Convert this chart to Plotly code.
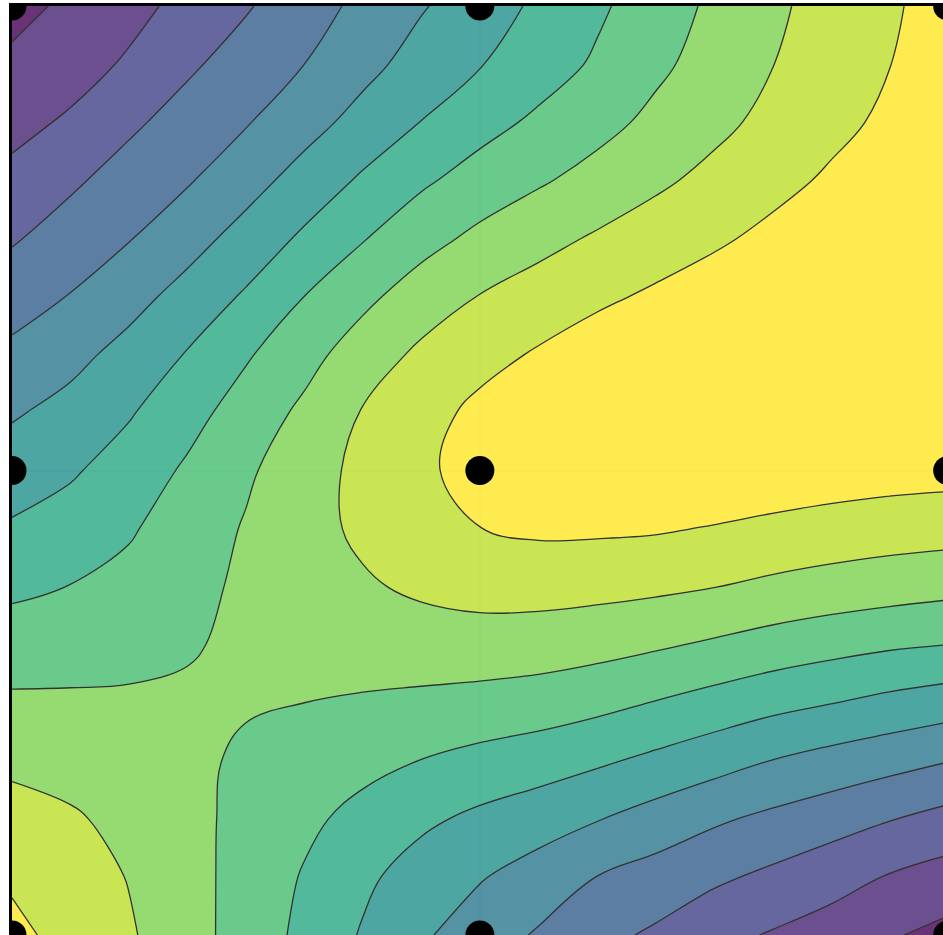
import plotly.graph_objects as go

# grid coordinates (step 0.125)
x_vals = [-1, -0.875, -0.75, -0.625, -0.5, -0.375, -0.25, -0.125, 0,
          0.125, 0.25, 0.375, 0.5, 0.625, 0.75, 0.875, 1]
y_vals = [-1, -0.875, -0.75, -0.625, -0.5, -0.375, -0.25, -0.125, 0,
          0.125, 0.25, 0.375, 0.5, 0.625, 0.75, 0.875, 1]

# surface values, one list per grid row (x from -1 to 1)
z_y_m1000 = [10.23, 9.70, 9.11, 8.38, 7.59, 6.75, 5.91, 5.14, 4.49, 3.90, 3.28, 2.85, 2.29, 1.92, 1.59, 1.10, 0.71]
z_y_m0875 = [9.87, 9.46, 8.96, 8.34, 7.64, 6.92, 6.20, 5.56, 5.07, 4.57, 3.99, 3.60, 3.18, 2.79, 2.36, 1.94, 1.60]
z_y_m0750 = [9.36, 9.11, 8.75, 8.28, 7.72, 7.21, 6.70, 6.19, 5.79, 5.45, 5.05, 4.60, 4.15, 3.78, 3.44, 3.05, 2.67]
z_y_m0625 = [8.80, 8.66, 8.53, 8.24, 7.83, 7.52, 7.28, 6.98, 6.70, 6.46, 6.15, 5.78, 5.39, 4.98, 4.64, 4.35, 4.03]
z_y_m0500 = [8.16, 8.15, 8.15, 8.17, 8.09, 8.00, 7.90, 7.79, 7.66, 7.52, 7.28, 6.96, 6.63, 6.30, 6.03, 5.74, 5.49]
z_y_m0375 = [7.48, 7.57, 7.68, 7.90, 8.22, 8.37, 8.45, 8.53, 8.57, 8.50, 8.35, 8.13, 7.87, 7.59, 7.35, 7.14, 7.00]
z_y_m0250 = [6.80, 7.02, 7.27, 7.70, 8.18, 8.58, 8.88, 9.17, 9.35, 9.37, 9.30, 9.19, 9.02, 8.80, 8.61, 8.45, 8.30]
z_y_m0125 = [6.12, 6.44, 6.90, 7.46, 8.08, 8.65, 9.19, 9.63, 9.99, 10.16, 10.15, 10.10, 9.94, 9.76, 9.61, 9.48, 9.40]
z_y_0000 = [5.50, 5.88, 6.45, 7.14, 7.85, 8.57, 9.25, 9.81, 10.40, 10.95, 10.95, 10.95, 10.86, 10.68, 10.52, 10.41, 10.34]
z_y_p0125 = [4.89, 5.32, 5.91, 6.66, 7.43, 8.20, 9.06, 9.63, 10.24, 10.73, 10.95, 10.95, 10.95, 10.95, 10.95, 10.95, 10.95]
z_y_p0250 = [4.23, 4.71, 5.33, 6.06, 6.89, 7.66, 8.49, 9.19, 9.67, 10.10, 10.50, 10.87, 10.95, 10.95, 10.95, 10.95, 10.95]
z_y_p0375 = [3.54, 4.04, 4.65, 5.35, 6.12, 7.00, 7.76, 8.48, 9.03, 9.43, 9.81, 10.15, 10.49, 10.83, 10.95, 10.95, 10.95]
z_y_p0500 = [2.90, 3.43, 3.95, 4.62, 5.36, 6.17, 6.94, 7.65, 8.23, 8.69, 9.11, 9.48, 9.84, 10.24, 10.65, 10.95, 10.95]
z_y_p0625 = [2.25, 2.84, 3.40, 3.91, 4.62, 5.38, 6.14, 6.84, 7.41, 7.88, 8.34, 8.82, 9.26, 9.70, 10.14, 10.56, 10.95]
z_y_p0750 = [1.71, 2.13, 2.82, 3.39, 3.93, 4.63, 5.34, 6.02, 6.65, 7.18, 7.68, 8.23, 8.75, 9.26, 9.73, 10.19, 10.66]
z_y_p0875 = [1.19, 1.61, 2.12, 2.84, 3.42, 4.00, 4.70, 5.39, 5.95, 6.54, 7.13, 7.79, 8.39, 8.98, 9.48, 9.98, 10.48]
z_y_p1000 = [0.69, 1.19, 1.71, 2.27, 2.91, 3.57, 4.24, 4.92, 5.52, 6.17, 6.83, 7.51, 8.18, 8.82, 9.36, 9.87, 10.38]

z_grid = [z_y_m1000, z_y_m0875, z_y_m0750, z_y_m0625, z_y_m0500, z_y_m0375,
          z_y_m0250, z_y_m0125, z_y_0000, z_y_p0125, z_y_p0250, z_y_p0375,
          z_y_p0500, z_y_p0625, z_y_p0750, z_y_p0875, z_y_p1000]

# sample points (3x3 grid)
pts_x = [-1, 0, 1, -1, 0, 1, -1, 0, 1]
pts_y = [1, 1, 1, 0, 0, 0, -1, -1, -1]

fig = go.Figure()
fig.add_trace(go.Contour(
    x=x_vals, y=y_vals, z=z_grid,
    colorscale="Viridis",
    contours=dict(start=1, end=10, size=1, coloring="fill"),
    line=dict(color="black", width=1.3, smoothing=1.1),
    opacity=0.8,
    showscale=False,
    hoverinfo="skip",
))
fig.add_trace(go.Scatter(
    x=pts_x, y=pts_y, mode="markers",
    marker=dict(color="black", size=29),
    showlegend=False,
))

fig.update_layout(
    width=943, height=935,
    margin=dict(l=12, r=0, t=6, b=0),
    paper_bgcolor="white", plot_bgcolor="white",
    showlegend=False,
)
fig.update_xaxes(range=[-1, 0.99], side="top", showline=True, linecolor="black", linewidth=3,
                 showgrid=False, zeroline=True, zerolinecolor="#EBF0F8", zerolinewidth=2,
                 showticklabels=False, ticks="")
fig.update_yaxes(range=[-1.0, 1], side="left", showline=True, linecolor="black", linewidth=3,
                 showgrid=False, zeroline=True, zerolinecolor="#EBF0F8", zerolinewidth=2,
                 showticklabels=False, ticks="")

fig.write_html("out.html", config={"displayModeBar": False},
               post_script="document.body.style.margin='0';document.documentElement.style.overflow='hidden';")
